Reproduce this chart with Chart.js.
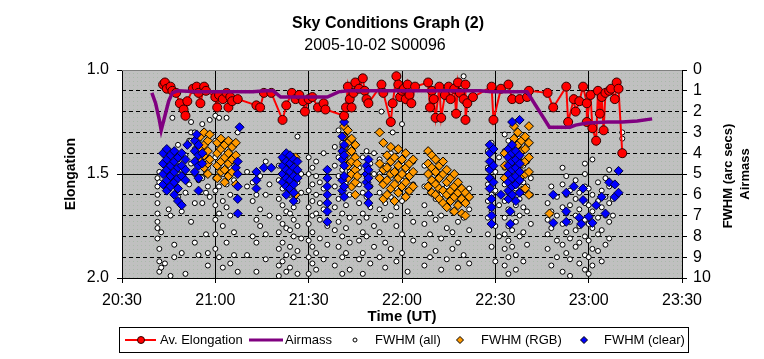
<!DOCTYPE html>
<html>
<head>
<meta charset="utf-8">
<script src="https://cdn.jsdelivr.net/npm/chart.js@4.4.0/dist/chart.umd.min.js"></script>
<style>
  html, body { margin: 0; padding: 0; background: #fff; }
  #wrap { width: 764px; height: 359px; }
</style>
</head>
<body>
<div id="wrap"><canvas id="chart" width="764" height="359"></canvas></div>
<script>
// axis tick labels
const TIME_LABELS = ['20:30', '21:00', '21:30', '22:00', '22:30', '23:00', '23:30'];
const ELONG_LABELS = ['1.0', '1.5', '2.0'];
const RIGHT_LABELS = ['0', '1', '2', '3', '4', '5', '6', '7', '8', '9', '10'];

// time in decimal hours (UT), elongation
const elongation = [
  [20.72, 1.07], [20.73, 1.06], [20.74, 1.09], [20.76, 1.08], [20.77, 1.10], [20.79, 1.11],
  [20.81, 1.16], [20.83, 1.19], [20.84, 1.22], [20.85, 1.15], [20.88, 1.09], [20.90, 1.08],
  [20.91, 1.11], [20.92, 1.16], [20.94, 1.08], [20.95, 1.10], [21.00, 1.13], [21.01, 1.18],
  [21.02, 1.12], [21.04, 1.14], [21.06, 1.11], [21.07, 1.18], [21.08, 1.13], [21.09, 1.15],
  [21.12, 1.14], [21.22, 1.17], [21.24, 1.18], [21.26, 1.11], [21.30, 1.11], [21.36, 1.24],
  [21.38, 1.17], [21.41, 1.11], [21.43, 1.14], [21.45, 1.12], [21.47, 1.15], [21.48, 1.20],
  [21.50, 1.14], [21.52, 1.13], [21.55, 1.18], [21.58, 1.16], [21.59, 1.19], [21.69, 1.22],
  [21.70, 1.18], [21.71, 1.08], [21.72, 1.14], [21.73, 1.18], [21.74, 1.11], [21.75, 1.06],
  [21.77, 1.09], [21.79, 1.04], [21.80, 1.10], [21.81, 1.14], [21.82, 1.16], [21.89, 1.07],
  [21.90, 1.11], [21.94, 1.25], [21.95, 1.16], [21.97, 1.03], [21.98, 1.07], [21.99, 1.13],
  [22.00, 1.10], [22.01, 1.09], [22.02, 1.14], [22.03, 1.07], [22.04, 1.12], [22.05, 1.16],
  [22.07, 1.08], [22.14, 1.06], [22.15, 1.18], [22.16, 1.10], [22.17, 1.14], [22.18, 1.23],
  [22.20, 1.08], [22.21, 1.23], [22.23, 1.12], [22.25, 1.08], [22.26, 1.14], [22.28, 1.09],
  [22.29, 1.21], [22.30, 1.06], [22.31, 1.11], [22.33, 1.14], [22.34, 1.07], [22.34, 1.24],
  [22.35, 1.16], [22.38, 1.13], [22.48, 1.08], [22.49, 1.24], [22.53, 1.09], [22.57, 1.07],
  [22.59, 1.14], [22.63, 1.14], [22.67, 1.13], [22.68, 1.10], [22.78, 1.11], [22.81, 1.18],
  [22.88, 1.08], [22.89, 1.25], [22.92, 1.14], [22.93, 1.20], [22.95, 1.15], [22.97, 1.08],
  [22.99, 1.16], [22.99, 1.25], [23.01, 1.12], [23.02, 1.28], [23.04, 1.34], [23.05, 1.10],
  [23.06, 1.21], [23.07, 1.13], [23.08, 1.29], [23.09, 1.11], [23.11, 1.10], [23.12, 1.09],
  [23.14, 1.14], [23.15, 1.06], [23.16, 1.09], [23.18, 1.40]
];

// time, airmass
const airmass = [
  [20.66, 1.1], [20.68, 1.6], [20.70, 2.4], [20.71, 2.9], [20.73, 2.2], [20.75, 1.5],
  [20.77, 1.1], [20.80, 1.0], [20.90, 1.05], [21.00, 1.05], [21.10, 1.05], [21.20, 1.05],
  [21.27, 1.0], [21.31, 1.0], [21.35, 1.3], [21.45, 1.3], [21.55, 1.3], [21.60, 1.3],
  [21.66, 1.05], [21.71, 1.0], [21.90, 1.0], [22.10, 1.0], [22.30, 1.0], [22.42, 1.0],
  [22.48, 1.05], [22.67, 1.05], [22.79, 2.75], [22.90, 2.75], [22.93, 2.65], [22.99, 2.55],
  [23.10, 2.5], [23.18, 2.5], [23.26, 2.45], [23.34, 2.35]
];

// FWHM (all): [time, [fwhm values at that time]]
const fwhmAll = [
  [20.69, [5.2, 5.6, 6.0, 6.4, 6.9, 7.3, 7.6, 8.1]], [20.70, [4.9, 5.4, 8.6, 9.2, 9.7]],
  [20.71, [7.8, 9.5]], [20.73, [4.1, 4.6, 9.3]], [20.75, [5.6, 6.7]], [20.76, [7.0, 9.9]],
  [20.77, [2.3]], [20.78, [4.0, 4.4, 8.4, 9.0]], [20.80, [3.6, 4.3, 5.0, 6.1]],
  [20.82, [4.8, 6.8, 8.8]], [20.84, [4.1, 5.9, 9.8]], [20.86, [3.4, 5.5]],
  [20.87, [2.5, 3.0, 3.4, 4.5, 7.3]], [20.89, [3.0, 3.8, 5.0, 6.4, 8.3]],
  [20.91, [3.4, 4.4, 5.3, 8.9]], [20.93, [2.6, 4.2, 5.2, 6.4]], [20.95, [5.0, 5.9, 7.9]],
  [20.96, [4.7, 5.6, 8.8, 9.4]], [20.97, [2.4, 6.1]],
  [21.00, [2.2, 3.4, 4.2, 5.2, 5.8, 6.5, 7.2, 7.9, 8.6]], [21.02, [2.3, 5.6, 6.9, 9.0]],
  [21.04, [4.0, 5.0, 6.3, 7.5, 9.5]], [21.06, [2.3, 5.5, 6.6, 8.3]],
  [21.08, [3.6, 4.7, 6.0, 7.0, 9.3]], [21.10, [4.4, 5.3, 7.8, 8.9]], [21.12, [3.0, 6.2, 9.7]],
  [21.17, [4.9, 5.6, 8.9]], [21.20, [5.4, 6.3, 8.0]], [21.22, [6.0, 7.2, 8.3, 9.7]],
  [21.24, [5.1, 6.7, 7.5]], [21.27, [4.4, 6.0, 7.9, 9.1]], [21.29, [5.5, 7.0]],
  [21.34, [4.6, 5.3, 6.2, 7.1, 7.8, 8.6, 9.4, 9.9]], [21.36, [4.3, 5.0, 5.7, 6.5, 7.4, 8.3, 9.2]],
  [21.38, [4.0, 4.8, 5.6, 6.8, 7.6, 8.9, 9.7]], [21.40, [4.5, 5.2, 6.0, 6.9, 7.7, 8.5, 9.5]],
  [21.42, [4.9, 5.8, 6.6, 7.2, 8.0, 9.0]], [21.44, [3.2, 4.4, 5.4, 6.3, 7.5, 8.7, 9.8]],
  [21.46, [5.0, 5.9, 8.1]], [21.50, [4.2, 5.0, 5.8, 6.6, 7.4, 8.2, 9.0, 9.8]],
  [21.52, [4.7, 5.5, 6.3, 7.0, 7.8, 8.5, 9.3]], [21.54, [4.4, 5.1, 6.0, 6.9, 8.8, 9.6]],
  [21.56, [5.4, 6.4, 7.2, 8.1]], [21.58, [4.0, 5.7, 6.7, 9.1]], [21.60, [5.2, 7.5, 8.4]],
  [21.64, [3.7, 4.6, 5.6, 6.6, 7.7, 9.4]], [21.66, [2.9, 4.2, 5.1, 6.2, 7.3, 8.5]],
  [21.68, [2.2, 3.5, 4.8, 5.9, 6.9, 8.0, 9.0, 9.8]], [21.70, [4.0, 5.4, 6.5, 7.6, 8.8]],
  [21.72, [3.3, 4.9, 6.0, 7.1, 8.3, 9.6]], [21.77, [4.7, 5.5, 6.4, 7.3, 8.2, 9.1]],
  [21.79, [4.2, 5.9, 6.9, 7.8, 8.8, 9.8]], [21.81, [3.9, 5.1, 6.1, 7.1, 8.0]],
  [21.83, [4.5, 5.6, 6.6, 9.3]], [21.85, [4.0, 5.0, 7.5, 8.5]],
  [21.88, [4.3, 5.0, 5.9, 6.7, 7.8, 9.0]], [21.89, [2.0]], [21.91, [4.6, 5.4, 6.4, 7.2, 8.3, 9.5]],
  [21.94, [4.0, 5.2, 6.1, 7.0, 8.6]], [21.95, [3.0]], [21.97, [4.8, 5.7, 6.6, 7.5, 9.2]],
  [22.00, [2.6, 4.5, 5.3, 6.3, 7.9, 8.8]], [22.03, [4.9, 5.8, 6.8, 9.7]], [22.06, [4.4, 5.5, 7.3, 8.2]],
  [22.12, [4.6, 5.6, 6.5, 7.4, 8.4, 9.4]], [22.15, [4.9, 5.9, 6.9, 7.9, 9.0]],
  [22.18, [5.3, 6.2, 7.2, 8.7]], [22.21, [5.0, 6.0, 7.0, 8.1, 9.6]], [22.24, [5.6, 6.6, 7.6, 9.1]],
  [22.27, [5.8, 6.8, 7.8, 8.6]], [22.30, [5.4, 6.4, 7.3, 8.3, 9.5]], [22.33, [0.3, 6.0, 7.1, 8.9]],
  [22.36, [5.7, 6.7, 7.7, 9.3]], [22.46, [3.9, 4.7, 5.5, 6.3, 7.1, 7.9]],
  [22.48, [3.5, 4.4, 5.2, 6.0, 6.8, 8.5]], [22.50, [4.9, 5.8, 7.5, 9.2]], [22.52, [4.2, 6.5, 8.0]],
  [22.55, [3.1, 3.9, 4.7, 5.5, 6.3, 7.1, 7.9, 8.6, 9.4]],
  [22.57, [3.4, 4.3, 5.1, 5.9, 6.7, 7.5, 8.2, 9.0, 9.8]],
  [22.59, [3.7, 4.5, 5.3, 6.1, 6.9, 7.7, 8.5]], [22.61, [4.0, 4.8, 5.7, 6.5, 7.3, 8.9, 9.6]],
  [22.63, [3.3, 4.2, 5.0, 6.2, 7.0, 8.0]], [22.65, [4.6, 5.4, 6.6, 7.8, 9.2]],
  [22.67, [3.6, 4.4, 5.6, 6.8, 8.4]], [22.69, [5.2, 6.0, 7.4]],
  [22.78, [6.4, 7.2, 7.9, 8.6]], [22.80, [5.6, 6.8, 7.6, 9.4]], [22.83, [6.1, 7.0, 8.2, 9.0]],
  [22.86, [4.7, 5.5, 6.6, 7.4, 8.4, 9.7]], [22.88, [5.1, 6.0, 6.9, 7.8, 8.8]],
  [22.90, [5.8, 6.5, 7.3, 8.1, 9.1, 9.9]], [22.93, [5.3, 6.2, 7.0, 7.7, 8.5]],
  [22.95, [5.9, 6.7, 7.5, 8.3, 9.3]], [22.98, [4.5, 5.0, 5.6, 6.4, 7.2, 8.0, 8.9, 9.6]],
  [23.00, [5.7, 6.5, 7.4, 8.2, 9.0, 9.8]], [23.02, [4.3, 6.0, 6.8, 7.6, 8.6, 9.4]],
  [23.05, [5.4, 6.3, 7.1, 7.9, 8.7]], [23.07, [5.8, 6.6, 7.7, 9.2]],
  [23.09, [5.2, 6.1, 7.0, 8.4]], [23.11, [4.8, 5.6, 6.4, 7.3, 8.1]], [23.13, [5.5, 6.2, 7.0]],
  [23.18, [3.0, 3.3]]
];

// FWHM (RGB)
const fwhmRgb = [
  [20.92, [3.2, 3.8, 4.4]], [20.94, [3.0, 3.6, 4.1, 4.7]], [20.96, [3.4, 3.9, 4.5, 5.0]],
  [20.97, [3.1, 4.3]], [21.01, [3.5, 4.0, 4.6, 5.2]], [21.03, [3.3, 3.8, 4.4, 4.9]],
  [21.05, [3.6, 4.2, 4.8, 5.4]], [21.07, [3.4, 4.0, 4.5, 5.1]], [21.09, [3.7, 4.3, 4.9]],
  [21.11, [3.5, 4.1, 5.5]], [21.40, [4.9, 5.5]], [21.43, [4.2, 6.0]],
  [21.69, [2.7, 3.2, 3.7, 4.3]], [21.71, [2.9, 3.5, 4.0, 4.6, 5.2]],
  [21.73, [3.3, 3.9, 4.4, 5.0, 5.6]], [21.75, [3.6, 4.2, 4.8, 5.4, 6.0]], [21.76, [4.5, 5.1]],
  [21.88, [3.0, 4.5, 5.2]], [21.90, [3.5, 4.8, 5.5, 6.2]], [21.92, [4.1, 4.7, 5.3, 6.0]],
  [21.94, [3.7, 4.4, 5.0, 5.7]], [21.96, [4.2, 4.9, 5.5, 6.3]], [21.98, [3.8, 4.6, 5.2, 5.9]],
  [22.00, [4.3, 5.0, 5.6]], [22.02, [4.0, 4.7, 5.4, 6.1]], [22.04, [4.5, 5.1, 5.8]],
  [22.06, [4.3, 4.9, 5.6]], [22.14, [3.9, 4.5, 5.0, 5.6]], [22.16, [4.1, 4.7, 5.3, 5.9]],
  [22.18, [4.3, 4.9, 5.5, 6.0]], [22.20, [4.6, 5.2, 5.7, 6.2]], [22.22, [4.4, 5.0, 5.8, 6.4]],
  [22.24, [4.8, 5.4, 6.0, 6.6]], [22.26, [5.2, 5.8, 6.3]], [22.28, [5.0, 5.6, 6.1, 6.8]],
  [22.30, [5.4, 5.9, 6.5]], [22.32, [5.7, 6.2, 6.9]], [22.34, [5.9, 6.4, 7.0]], [22.36, [6.1]],
  [22.55, [4.0, 4.6, 5.2]], [22.60, [2.7, 3.3, 4.3, 5.5]], [22.62, [3.0, 3.6, 4.1, 4.8, 5.4]],
  [22.64, [3.4, 3.9, 4.5, 5.1, 5.8]], [22.66, [3.2, 3.8, 4.4, 5.0, 5.7]],
  [22.68, [2.7, 3.5, 4.2, 4.9, 6.0]], [22.79, [6.9]]
];

// FWHM (clear)
const fwhmClear = [
  [20.72, [4.0, 4.5, 5.0, 5.5]], [20.74, [3.8, 4.3, 4.8, 5.3, 5.8]], [20.76, [4.1, 4.6, 5.1, 5.6]],
  [20.78, [3.9, 4.4, 4.9, 5.4, 6.0]], [20.80, [4.2, 4.7, 5.2, 5.7, 6.3]],
  [20.82, [4.0, 4.6, 5.1, 6.5]], [20.84, [4.3, 4.8, 5.3]], [20.85, [3.6]],
  [20.89, [3.4, 3.9, 4.4, 4.9]], [20.90, [3.1]], [20.91, [3.6, 4.1, 4.6, 5.2, 5.8]],
  [20.93, [4.0, 4.5]], [21.11, [4.7]], [21.12, [4.4, 5.0, 5.6, 6.2, 6.9]], [21.13, [2.75]],
  [21.22, [4.9, 5.3, 5.7]], [21.26, [4.7]], [21.30, [4.7]],
  [21.36, [4.2, 4.6, 5.0, 5.4]], [21.38, [4.0, 4.4, 4.8, 5.2, 5.6, 6.0]],
  [21.40, [4.1, 4.5, 4.9, 5.3, 5.7]], [21.42, [4.3, 4.7, 5.1, 5.5, 5.9, 6.3]],
  [21.44, [4.4, 4.8, 5.2]], [21.60, [4.8, 5.2, 5.6, 6.0, 6.4, 6.8, 7.3]],
  [21.68, [3.2, 3.9, 4.3, 5.3, 5.8]], [21.69, [2.5, 3.6, 4.1, 4.6, 5.1, 5.6, 6.1]],
  [21.81, [4.6, 5.0, 5.4]], [21.82, [4.3, 4.8, 5.2, 5.6, 6.0, 6.4]],
  [22.47, [3.6, 4.0, 4.4, 4.8, 5.2, 5.7]], [22.48, [6.2, 6.6, 7.0, 7.4]], [22.49, [3.8, 4.6, 5.4]],
  [22.53, [6.0]], [22.57, [3.8, 4.2, 4.6, 5.0, 5.4, 5.8, 6.2]], [22.58, [6.8, 7.4]],
  [22.59, [2.5, 3.6, 4.0, 4.4, 4.8, 5.2, 5.6, 6.0]], [22.61, [3.9, 4.3, 4.7, 5.1, 5.5, 6.3]],
  [22.63, [2.4, 4.1, 4.5, 4.9, 5.3, 5.9]],
  [22.81, [6.0, 7.35]], [22.88, [5.9, 6.8, 7.3]], [22.92, [5.6]], [22.95, [7.1]],
  [22.96, [7.4]], [22.97, [5.7, 6.25]], [23.00, [7.05]], [23.02, [7.35]], [23.04, [6.5]],
  [23.07, [6.1]], [23.09, [6.9]], [23.11, [5.4]], [23.14, [5.5, 6.1]], [23.16, [4.85, 5.9]]
];

function toPoints(pairs) {
  return pairs.map(([x, y]) => ({ x, y }));
}

function columnsToPoints(cols) {
  const pts = [];
  cols.forEach(([x, ys]) => ys.forEach(y => pts.push({ x, y })));
  return pts;
}

const FONT = "'Liberation Sans', Arial, sans-serif";

function makePattern(ctx) {
  const c = document.createElement('canvas');
  c.width = 4;
  c.height = 4;
  const g = c.getContext('2d');
  g.fillStyle = '#c0c0c0';
  g.fillRect(0, 0, 4, 4);
  g.fillStyle = '#a9b9a9';
  g.fillRect(1, 1, 1, 1);
  return ctx.createPattern(c, 'repeat');
}

const decorPlugin = {
  id: 'decor',
  beforeDraw(chart) {
    const { ctx, chartArea: a } = chart;
    ctx.save();
    ctx.fillStyle = makePattern(ctx);
    ctx.fillRect(a.left, a.top, a.right - a.left, a.bottom - a.top);
    ctx.restore();
  },
  afterDraw(chart) {
    const { ctx, chartArea: a } = chart;
    ctx.save();
    // top edge of plot area
    ctx.strokeStyle = '#808080';
    ctx.lineWidth = 1;
    ctx.beginPath();
    ctx.moveTo(a.left, a.top + 0.5);
    ctx.lineTo(a.right, a.top + 0.5);
    ctx.stroke();

    ctx.fillStyle = '#000';
    ctx.textAlign = 'center';
    ctx.textBaseline = 'middle';
    ctx.font = 'bold 16px ' + FONT;
    ctx.fillText('Sky Conditions Graph (2)', 388, 24);
    ctx.font = '16px ' + FONT;
    ctx.fillText('2005-10-02 S00096', 375, 46);

    ctx.font = 'bold 15px ' + FONT;
    ctx.fillText('Time (UT)', 402, 317);

    ctx.font = 'bold 14px ' + FONT;
    ctx.save();
    ctx.translate(71, 174);
    ctx.rotate(-Math.PI / 2);
    ctx.fillText('Elongation', 0, 0);
    ctx.restore();

    ctx.font = 'bold 13px ' + FONT;
    ctx.save();
    ctx.translate(728, 176);
    ctx.rotate(-Math.PI / 2);
    ctx.fillText('FWHM (arc secs)', 0, 0);
    ctx.restore();

    ctx.save();
    ctx.translate(745, 174);
    ctx.rotate(-Math.PI / 2);
    ctx.fillText('Airmass', 0, 0);
    ctx.restore();

    // legend
    ctx.strokeStyle = '#000';
    ctx.lineWidth = 1;
    ctx.strokeRect(119.5, 327.5, 569, 25);
    ctx.font = '13px ' + FONT;
    ctx.textAlign = 'left';
    const ly = 340;
    const ds = chart.data.datasets;

    // Av. Elongation
    ctx.strokeStyle = ds[0].borderColor;
    ctx.lineWidth = 2;
    ctx.beginPath();
    ctx.moveTo(125, ly);
    ctx.lineTo(156, ly);
    ctx.stroke();
    ctx.fillStyle = ds[0].pointBackgroundColor;
    ctx.strokeStyle = ds[0].pointBorderColor;
    ctx.lineWidth = 1;
    ctx.beginPath();
    ctx.arc(141, ly, 3.5, 0, Math.PI * 2);
    ctx.fill();
    ctx.stroke();
    ctx.fillStyle = '#000';
    ctx.fillText(ds[0].label, 160, ly);

    // Airmass
    ctx.strokeStyle = ds[1].borderColor;
    ctx.lineWidth = 3;
    ctx.beginPath();
    ctx.moveTo(249, ly);
    ctx.lineTo(283, ly);
    ctx.stroke();
    ctx.fillStyle = '#000';
    ctx.fillText(ds[1].label, 285, ly);

    // FWHM (all)
    ctx.fillStyle = '#fff';
    ctx.strokeStyle = '#000';
    ctx.lineWidth = 1;
    ctx.beginPath();
    ctx.arc(355, ly, 2, 0, Math.PI * 2);
    ctx.fill();
    ctx.stroke();
    ctx.fillStyle = '#000';
    ctx.fillText(ds[2].label, 375, ly);

    const diamond = (x, color) => {
      ctx.fillStyle = color;
      ctx.strokeStyle = '#000';
      ctx.beginPath();
      ctx.moveTo(x, ly - 3.5);
      ctx.lineTo(x + 3.5, ly);
      ctx.lineTo(x, ly + 3.5);
      ctx.lineTo(x - 3.5, ly);
      ctx.closePath();
      ctx.fill();
      ctx.stroke();
    };
    diamond(460, ds[3].pointBackgroundColor);
    ctx.fillStyle = '#000';
    ctx.fillText(ds[3].label, 481, ly);
    diamond(584, ds[4].pointBackgroundColor);
    ctx.fillStyle = '#000';
    ctx.fillText(ds[4].label, 604, ly);
    ctx.restore();
  }
};

const chart = new Chart(document.getElementById('chart'), {
  type: 'scatter',
  data: {
    datasets: [
      {
        label: 'Av. Elongation',
        data: toPoints(elongation),
        yAxisID: 'y',
        showLine: true,
        borderColor: '#ff0000',
        borderWidth: 2,
        pointRadius: 4.5,
        pointBackgroundColor: '#ff0000',
        pointBorderColor: '#300000',
        pointBorderWidth: 1,
        order: 1
      },
      {
        label: 'Airmass',
        data: toPoints(airmass),
        yAxisID: 'y2',
        showLine: true,
        borderColor: '#800080',
        borderWidth: 3.5,
        pointRadius: 0,
        order: 0
      },
      {
        label: 'FWHM (all)',
        data: columnsToPoints(fwhmAll),
        yAxisID: 'y2',
        pointRadius: 2.5,
        pointBackgroundColor: '#ffffff',
        pointBorderColor: '#000000',
        pointBorderWidth: 1,
        order: 4
      },
      {
        label: 'FWHM (RGB)',
        data: columnsToPoints(fwhmRgb),
        yAxisID: 'y2',
        pointStyle: 'rectRot',
        pointRadius: 4.5,
        pointBackgroundColor: '#ff9900',
        pointBorderColor: '#000000',
        pointBorderWidth: 1,
        order: 3
      },
      {
        label: 'FWHM (clear)',
        data: columnsToPoints(fwhmClear),
        yAxisID: 'y2',
        pointStyle: 'rectRot',
        pointRadius: 4.5,
        pointBackgroundColor: '#0000ff',
        pointBorderColor: '#000040',
        pointBorderWidth: 1,
        order: 2
      }
    ]
  },
  options: {
    responsive: false,
    animation: false,
    events: [],
    layout: { padding: { top: 70, bottom: 41, left: 0, right: 0 } },
    plugins: {
      legend: { display: false },
      title: { display: false },
      tooltip: { enabled: false }
    },
    scales: {
      x: {
        type: 'linear',
        min: 20.5,
        max: 23.5,
        afterFit(scale) { scale.height = 40; },
        ticks: {
          stepSize: 0.5,
          autoSkip: false,
          color: '#000',
          font: { family: FONT, size: 16 },
          padding: 8,
          maxRotation: 0,
          callback: v => TIME_LABELS[Math.round((v - 20.5) * 2)]
        },
        grid: {
          color: ctx => (ctx.tick && ctx.tick.value === 20.5 ? 'rgba(0,0,0,0)' : '#000'),
          tickColor: '#000',
          tickLength: 5,
          lineWidth: 1
        },
        border: { color: '#000', width: 1 }
      },
      y: {
        position: 'left',
        min: 1.0,
        max: 2.0,
        reverse: true,
        afterFit(scale) { scale.width = 122; },
        ticks: {
          stepSize: 0.5,
          autoSkip: false,
          color: '#000',
          font: { family: FONT, size: 16 },
          padding: 8,
          callback: v => ELONG_LABELS[Math.round((v - 1) * 2)]
        },
        grid: {
          color: ctx => (ctx.tick && ctx.tick.value === 1.5 ? '#000' : 'rgba(0,0,0,0)'),
          tickColor: '#000',
          tickLength: 5
        },
        border: { color: '#000', width: 1 }
      },
      y2: {
        position: 'right',
        min: 0,
        max: 10,
        reverse: true,
        afterFit(scale) { scale.width = 82; },
        ticks: {
          stepSize: 1,
          autoSkip: false,
          color: '#000',
          font: { family: FONT, size: 16 },
          padding: 6,
          callback: v => RIGHT_LABELS[Math.round(v)]
        },
        grid: {
          color: ctx => {
            const v = ctx.tick ? ctx.tick.value : -1;
            return (v === 0 || v === 5 || v === 10) ? 'rgba(0,0,0,0)' : '#000';
          },
          tickColor: '#000',
          tickLength: 5
        },
        border: { color: '#000', width: 1, dash: [4, 3] }
      }
    }
  },
  plugins: [decorPlugin]
});
</script>
</body>
</html>
